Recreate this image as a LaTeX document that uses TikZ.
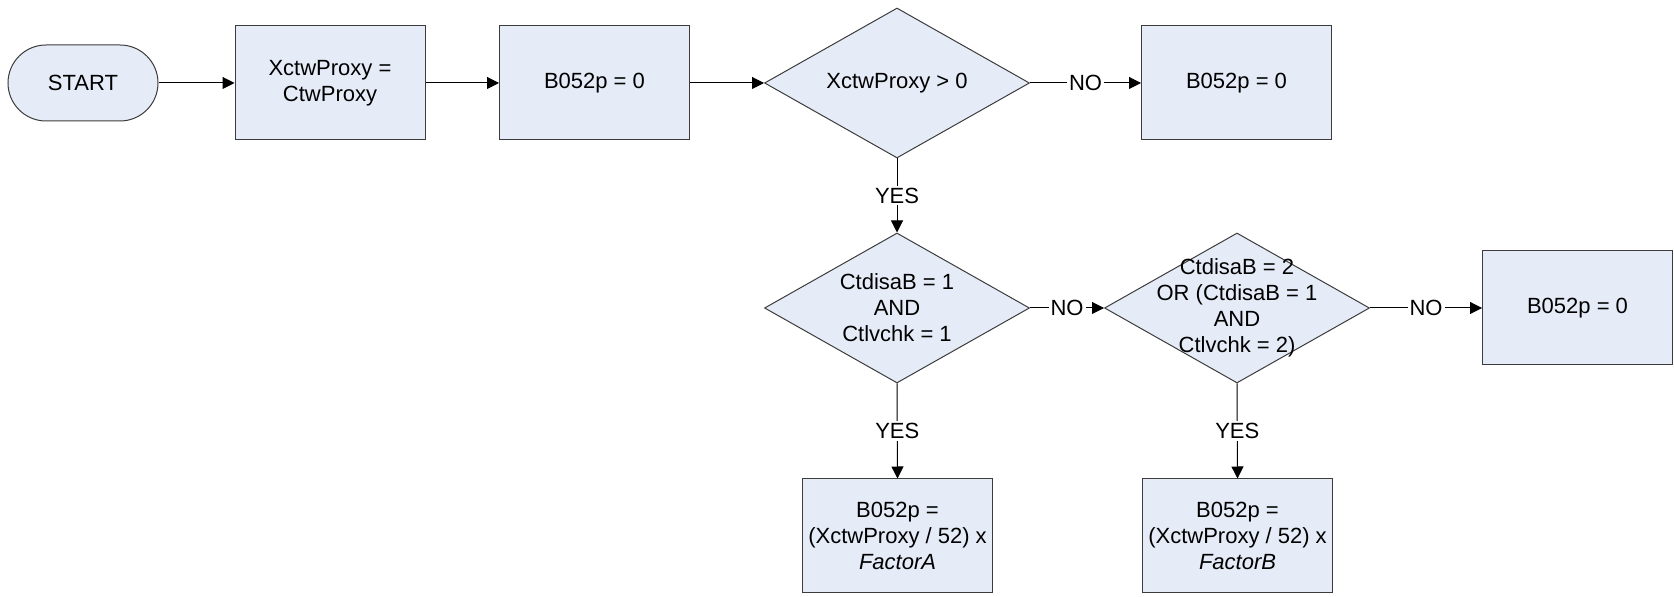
\documentclass[tikz,border=0pt]{standalone}
\usepackage{fontspec}
\setmainfont{Liberation Sans}
\usetikzlibrary{shapes.geometric,arrows.meta}
\definecolor{boxfill}{RGB}{230,236,247}
\definecolor{boxline}{RGB}{60,60,60}
\begin{document}
\begin{tikzpicture}[x=0.5pt,y=-0.5pt,
  font=\fontsize{11}{13}\selectfont,
  procbox/.style={draw=boxline,fill=boxfill,line width=0.5pt,minimum width=95pt,minimum height=57pt,align=center,inner sep=0pt},
  decbox/.style={draw=boxline,fill=boxfill,line width=0.5pt,diamond,minimum width=132.5pt,minimum height=75pt,inner sep=0pt},
  dectext/.style={align=center,inner sep=0pt},
  conn/.style={draw=black,line width=0.5pt,-{Triangle[length=6pt,width=6pt]}},
  lbl/.style={fill=white,inner sep=1pt}]
\useasboundingbox (0,0) rectangle (1674,597);
% row 1
\node[procbox,rounded corners=19pt,minimum width=75pt,minimum height=38pt] (start) at (83,83) {START};
\node[procbox] (b1) at (330,83) {XctwProxy =\\CtwProxy};
\node[procbox] (b2) at (594.5,83) {B052p = 0};
\node[decbox] (d1) at (897,83) {};
\node[dectext] (t1) at (d1) {XctwProxy > 0};
\node[procbox] (b3) at (1236.5,83) {B052p = 0};
% row 2
\node[decbox] (d2) at (897,308) {};
\node[dectext] (t2) at (d2) {CtdisaB = 1\\AND\\Ctlvchk = 1};
\node[decbox] (d3) at (1237,308) {};
\node[dectext] (t3) at (d3) {CtdisaB = 2\\OR (CtdisaB = 1\\AND\\Ctlvchk = 2)};
\node[procbox] (b4) at (1577.5,308) {B052p = 0};
% row 3
\node[procbox] (b5) at (897.5,536) {B052p =\\(XctwProxy / 52) x\\\textit{FactorA}};
\node[procbox] (b6) at (1237.5,536) {B052p =\\(XctwProxy / 52) x\\\textit{FactorB}};
% connectors
\draw[conn] (start.east) -- (b1.west);
\draw[conn] (b1.east) -- (b2.west);
\draw[conn] (b2.east) -- (d1.west);
\draw[conn] (d1.east) -- node[lbl]{NO} (b3.west);
\draw[conn] (d1.south) -- node[lbl]{YES} (d2.north);
\draw[conn] (d2.east) -- node[lbl]{NO} (d3.west);
\draw[conn] (d3.east) -- node[lbl]{NO} (b4.west);
\draw[conn] (d2.south) -- node[lbl]{YES} (b5.north);
\draw[conn] (d3.south) -- node[lbl]{YES} (b6.north);
\end{tikzpicture}
\end{document}
